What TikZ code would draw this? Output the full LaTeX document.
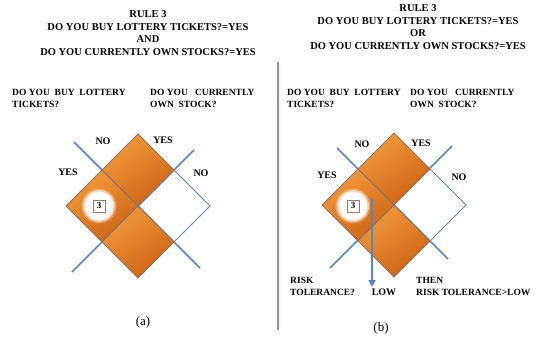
\documentclass[tikz,border=0pt]{standalone}
\usepackage{fontspec}
\setmainfont{Liberation Serif}
\usetikzlibrary{arrows.meta}
\definecolor{lineblue}{HTML}{5B86B6}
\definecolor{cellgray}{HTML}{857468}
\definecolor{orlight}{HTML}{F39A3E}
\definecolor{ordark}{HTML}{CC6214}
\definecolor{purpleline}{HTML}{9C88C4}
\definecolor{boxbrown}{HTML}{9A7A60}
\begin{document}
\begin{tikzpicture}[x=1pt,y=-1pt,
  titletxt/.style={font=\bfseries\fontsize{10.5}{12.6}\selectfont, inner sep=0pt, align=center},
  lbl/.style={font=\bfseries\fontsize{9.5}{12}\selectfont, inner sep=0pt, align=left, anchor=base west},
  ans/.style={font=\bfseries\fontsize{10}{12}\selectfont, inner sep=0pt, anchor=base},
  captxt/.style={font=\fontsize{13}{15}\selectfont, inner sep=0pt},
  axisline/.style={draw=lineblue, line width=1.6pt},
  cell/.style={draw=cellgray, line width=0.9pt, top color=orlight, bottom color=ordark, shading angle=35},
  opencell/.style={draw=lineblue, line width=0.9pt},
  numbox/.style={draw=boxbrown, line width=0.8pt, fill=white, minimum size=12pt, inner sep=0pt, font=\bfseries\fontsize{9}{9}\selectfont},
]
\useasboundingbox (0,0) rectangle (548,345);

% ---------- panel (a) ----------
\node[titletxt] (ta) at (148,33) {RULE 3\\DO YOU BUY LOTTERY TICKETS?=YES\\AND\\DO YOU CURRENTLY OWN STOCKS?=YES};
\node[lbl] (qa1) at (12,107) {DO YOU\ \ BUY\ \ LOTTERY\\TICKETS?};
\node[lbl] (qa2) at (150,107) {DO YOU\ \ \ CURRENTLY\\OWN\ \ STOCK?};

\coordinate (aL1s) at (74,142);
\coordinate (aL1e) at (200,268);
\coordinate (aL2s) at (194,150);
\coordinate (aL2e) at (72,272);
\draw[axisline] (aL1s) -- (aL1e);
\draw[axisline] (aL2s) -- (aL2e);
\shade[cell] (138,134) -- (174,170) -- (138,206) -- (102,170) -- cycle;
\shade[cell] (102,170) -- (138,206) -- (102,242) -- (66,206) -- cycle;
\shade[cell] (138,206) -- (174,242) -- (138,278) -- (102,242) -- cycle;
\draw[opencell] (174,170) -- (210,206) -- (174,242);

\fill[white, opacity=0.25] (99,206) circle (17.5pt);
\fill[white, opacity=0.5] (99,206) circle (16pt);
\fill[white, opacity=0.8] (99,206) circle (14.5pt);
\fill[white] (99,206) circle (12.5pt);
\node[numbox] (na) at (99,206) {3};

\node[ans] (anoT) at (103,144.5) {NO};
\node[ans] (ayesT) at (163,143.5) {YES};
\node[ans] (ayesL) at (68,175.5) {YES};
\node[ans] (anoR) at (201,176.5) {NO};
\node[captxt] (capa) at (143,322) {(a)};

% ---------- divider ----------
\coordinate (dvs) at (278,62);
\coordinate (dve) at (278,330);
\draw[purpleline, line width=1.8pt] (dvs) -- (dve);

% ---------- panel (b) ----------
\node[titletxt] (tb) at (418,27) {RULE 3\\DO YOU BUY LOTTERY TICKETS?=YES\\OR\\DO YOU CURRENTLY OWN STOCKS?=YES};
\node[lbl] (qb1) at (287,107) {DO YOU\ \ BUY\ \ LOTTERY\\TICKETS?};
\node[lbl] (qb2) at (410,107) {DO YOU\ \ \ CURRENTLY\\OWN\ \ STOCK?};

\coordinate (bL1s) at (337,148);
\coordinate (bL1e) at (448,259);
\coordinate (bL2s) at (452,146);
\coordinate (bL2e) at (330,268);
\draw[axisline] (bL1s) -- (bL1e);
\draw[axisline] (bL2s) -- (bL2e);
\begin{scope}[shift={(256,-1)}]
\shade[cell] (138,134) -- (174,170) -- (138,206) -- (102,170) -- cycle;
\shade[cell] (102,170) -- (138,206) -- (102,242) -- (66,206) -- cycle;
\shade[cell] (138,206) -- (174,242) -- (138,278) -- (102,242) -- cycle;
\draw[opencell] (174,170) -- (210,206) -- (174,242);
\end{scope}

\fill[white, opacity=0.25] (353,206) circle (17.5pt);
\fill[white, opacity=0.5] (353,206) circle (16pt);
\fill[white, opacity=0.8] (353,206) circle (14.5pt);
\fill[white] (353,206) circle (12.5pt);
\node[numbox] (nb) at (353,206) {3};

\coordinate (arS) at (372,198);
\coordinate (arE) at (372,287);
\draw[axisline, -{Triangle[length=7pt,width=7pt]}] (arS) -- (arE);

\node[ans] (bnoT) at (362,147.5) {NO};
\node[ans] (byesT) at (421,146.5) {YES};
\node[ans] (byesL) at (327,178.5) {YES};
\node[ans] (bnoR) at (459,180.5) {NO};

\node[lbl] (risk) at (290,295.5) {RISK\\TOLERANCE?};
\node[ans] (low) at (384,295.5) {LOW};
\node[lbl] (then) at (416,295.5) {THEN\\RISK TOLERANCE\textgreater LOW};
\node[captxt] (capb) at (381,328) {(b)};
\end{tikzpicture}
\end{document}
